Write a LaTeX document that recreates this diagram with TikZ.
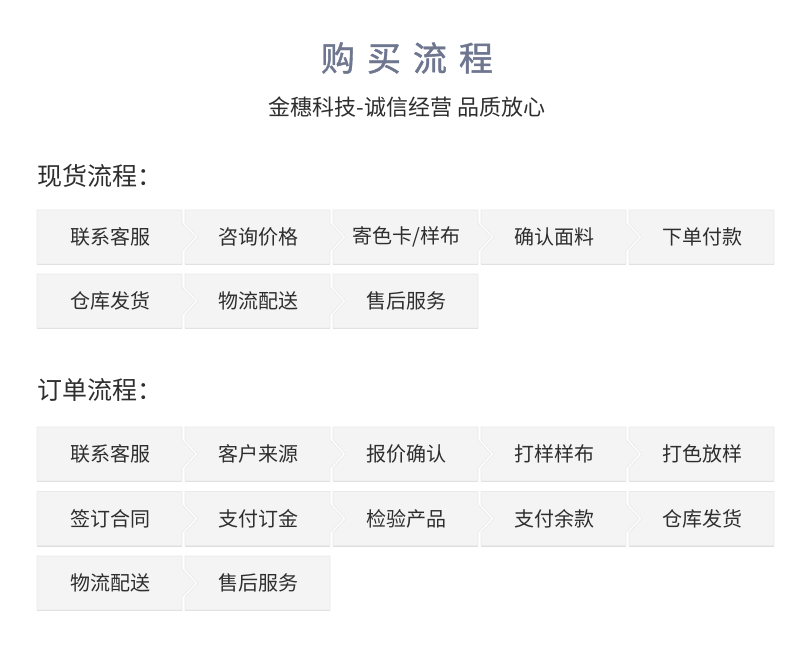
\documentclass[tikz,border=0pt]{standalone}
\usepackage{fontspec}
\setmainfont{Noto Sans CJK SC}
\definecolor{boxfill}{HTML}{F4F4F4}
\definecolor{boxedge}{HTML}{EAEAEA}
\definecolor{boxshadow}{HTML}{DDDDDD}
\definecolor{titlecol}{HTML}{6E7690}
\definecolor{txt}{HTML}{2E2E2E}
\tikzset{
  boxtext/.style={font=\fontsize{20}{23}\selectfont, text=txt, inner sep=0pt},
  headtext/.style={font=\fontsize{25}{29}\selectfont, text=txt, inner sep=0pt, anchor=west},
  boxshape/.style={fill=boxfill, draw=boxedge, line width=0.6pt, line join=miter},
}
% #1 name, #2 column, #3 top y, #4 text, #5 notch left (0/1), #6 point right (0/1)
\newcommand\flowbox[6]{%
  \pgfmathsetmacro\bL{37+148*#2}%
  \pgfmathsetmacro\bR{\bL+145}%
  \pgfmathsetmacro\bT{#3}%
  \pgfmathsetmacro\bB{\bT+54}%
  \pgfmathsetmacro\bM{\bT+27}%
  \fill[boxshadow] (\bL,\bB-1) rectangle (\bR,\bB+1.2);
  \path[boxshape] (\bL,\bT) -- (\bR,\bT)
    \ifnum#6=1 -- (\bR,\bT+13) -- (\bR+13,\bM) -- (\bR,\bT+41) \fi
    -- (\bR,\bB) -- (\bL,\bB)
    \ifnum#5=1 -- (\bL,\bT+41) -- (\bL+13,\bM) -- (\bL,\bT+13) \fi
    -- cycle;
  \node[boxtext] (#1) at ({(\bL+\bR)/2+1},\bM) {#4};
}
\begin{document}
\begin{tikzpicture}[x=1pt,y=-1pt]
\useasboundingbox (0,0) rectangle (790,655);
\fill[white] (0,0) rectangle (790,655);
\node[font=\fontsize{34}{40}\selectfont\addfontfeature{FakeBold=1.2}, text=titlecol, inner sep=0pt] (title) at (407,58)
  {购\hspace{12pt}买\hspace{12pt}流\hspace{12pt}程};
\node[font=\fontsize{22}{26}\selectfont, text=txt, inner sep=0pt] (subtitle) at (407,107)
  {金穗科技-诚信经营 品质放心};
\node[headtext] (head1) at (37,176) {现货流程：};
\node[headtext] (head2) at (37,390) {订单流程：};
% spot goods flow
\flowbox{a1}{0}{210}{联系客服}{0}{1}
\flowbox{a2}{1}{210}{咨询价格}{1}{1}
\flowbox{a3}{2}{210}{寄色卡/样布}{1}{1}
\flowbox{a4}{3}{210}{确认面料}{1}{1}
\flowbox{a5}{4}{210}{下单付款}{1}{0}
\flowbox{a6}{0}{274}{仓库发货}{0}{1}
\flowbox{a7}{1}{274}{物流配送}{1}{1}
\flowbox{a8}{2}{274}{售后服务}{1}{0}
% order flow
\flowbox{b1}{0}{427}{联系客服}{0}{1}
\flowbox{b2}{1}{427}{客户来源}{1}{1}
\flowbox{b3}{2}{427}{报价确认}{1}{1}
\flowbox{b4}{3}{427}{打样样布}{1}{1}
\flowbox{b5}{4}{427}{打色放样}{1}{0}
\flowbox{b6}{0}{491.5}{签订合同}{0}{1}
\flowbox{b7}{1}{491.5}{支付订金}{1}{1}
\flowbox{b8}{2}{491.5}{检验产品}{1}{1}
\flowbox{b9}{3}{491.5}{支付余款}{1}{1}
\flowbox{b10}{4}{491.5}{仓库发货}{1}{0}
\flowbox{b11}{0}{556}{物流配送}{0}{1}
\flowbox{b12}{1}{556}{售后服务}{1}{0}
\end{tikzpicture}
\end{document}
